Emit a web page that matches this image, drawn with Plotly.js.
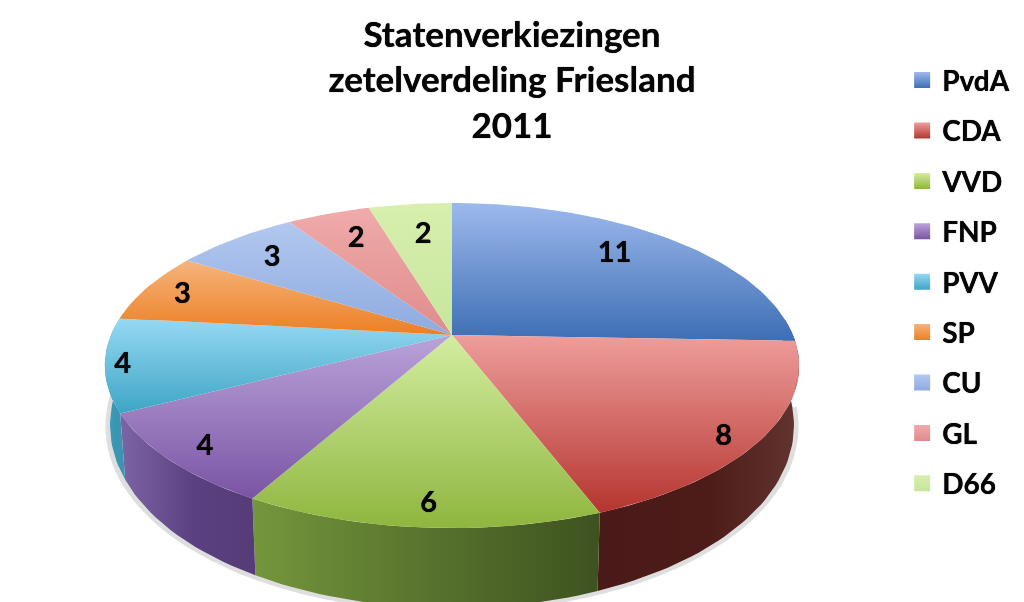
<!DOCTYPE html>
<html><head><meta charset="utf-8">
<script src="https://cdn.plot.ly/plotly-3.0.1.min.js"></script>
<style>html,body{margin:0;padding:0;background:#fff;overflow:hidden}#c{width:1024px;height:602px;filter:blur(0.7px)}</style>
</head><body><div id="c"></div>
<script>
// Data
const parties = ['PvdA','CDA','VVD','FNP','PVV','SP','CU','GL','D66'];
const seats = [11,8,6,4,4,3,3,2,2];
const chartTitle = 'Statenverkiezingen<br>zetelverdeling Friesland<br>2011';

// Styles
const topLight = ['#9db9ec','#ee9e9c','#d3eda0','#baa3d9','#96d9f3','#f6b47c','#b2c8ef','#efabaa','#d8efae'];
const topDark  = ['#3d6eb4','#b5352f','#8fb63f','#7a54a4','#3ea5c5','#ec7f24','#8eaadf','#df8c8b','#c6e69c'];
const wallLeft = ['#3d6eb4','#4a1a18','#75963c','#7d64a4','#3f9fbe','#ec7f24','#8eaadf','#df8c8b','#c6e69c'];
const wallMid  = ['#3d6eb4','#4d1c19','#55702c','#5a4080','#3a95b3','#ec7f24','#8eaadf','#df8c8b','#c6e69c'];
const wallRight= ['#3d6eb4','#62352f','#3e521f','#553c78','#3a95b3','#ec7f24','#8eaadf','#df8c8b','#c6e69c'];
const labelReach = [.79,.91,.89,.89,.95,.88,.81,.78,.75];
const labelTurn = [-4,3,-0.5,0,0,0,0,1,1];
const inkShadow = '0 0 0.8px #000';

// Tilted-disc projection
const cx=452, cy=335, A=341, B=156.8, K=0.188;
const proj=(deg,r)=>{const a=deg*Math.PI/180,u=Math.sin(a)*r,v=-Math.cos(a)*r,w=1-K*v;return [cx+A*u/w,cy+B*v/w,v];};
const low=(deg)=>{const p=proj(deg,1);return [cx+(p[0]-cx)*0.985,p[1]+55+25*p[2]];};
const total=seats.reduce((a,b)=>a+b,0);
const arcs=(a0,a1)=>{const n=Math.max(2,Math.ceil((a1-a0)/1.5)),o=[];for(let i=0;i<=n;i++)o.push(a0+(a1-a0)*i/n);return o;};

const traces=[];
// soft shadow under the wall
const sh=arcs(95,285);
traces.push({type:'scatter',mode:'lines',x:sh.map(d=>low(d)[0]-(Math.sin(d*Math.PI/180)<0?2:-2)),y:sh.map(d=>low(d)[1]+1),
  line:{color:'rgba(90,90,90,.2)',width:5,shape:'spline'},showlegend:false,hoverinfo:'skip'});

let cum=0; const slices=seats.map(s=>{const a0=cum/total*360;cum+=s;return [a0,cum/total*360];});
// side wall, only the slices facing the viewer
slices.forEach(([a0,a1],i)=>{
  const s=Math.max(a0,84), e=Math.min(a1,290); if(e<=s) return;
  const d=arcs(s,e), t=d.map(x=>proj(x,1)), b=d.map(low).reverse();
  const xs=t.map(p=>p[0]).concat(b.map(p=>p[0])), ys=t.map(p=>p[1]).concat(b.map(p=>p[1]));
  xs.push(xs[0]); ys.push(ys[0]);
  traces.push({type:'scatter',mode:'lines',x:xs,y:ys,fill:'toself',line:{width:0,color:wallMid[i]},showlegend:false,hoverinfo:'skip',
    fillgradient:{type:'horizontal',colorscale:[[0,wallLeft[i]],[.55,wallMid[i]],[1,wallRight[i]]]}});
});
// top face (the y axis runs downward, so the colour scale runs dark to light)
slices.forEach(([a0,a1],i)=>{
  const pts=arcs(a0,a1).map(x=>proj(x,1));
  const xs=[cx].concat(pts.map(p=>p[0]),[cx]), ys=[cy].concat(pts.map(p=>p[1]),[cy]);
  traces.push({type:'scatter',mode:'lines',x:xs,y:ys,fill:'toself',line:{width:0,color:topDark[i]},showlegend:false,
    name:parties[i],text:String(seats[i]),hoverinfo:'name+text',
    fillgradient:{type:'vertical',colorscale:[[0,topDark[i]],[1,topLight[i]]]}});
});
// value labels
const lab=slices.map(([a0,a1],i)=>proj((a0+a1)/2+labelTurn[i],labelReach[i]));
traces.push({type:'scatter',mode:'text',x:lab.map(p=>p[0]),y:lab.map(p=>p[1]+3),text:seats.map(String),textposition:'middle center',
  textfont:{family:'Lato, sans-serif',size:29,color:'#050505',weight:700,shadow:inkShadow},showlegend:false,hoverinfo:'skip'});
// legend entries
parties.forEach((p,i)=>traces.push({type:'scatter',mode:'markers',x:[null],y:[null],name:p,legendgroup:p,
  marker:{symbol:'square',size:17,color:topLight[i],gradient:{type:'vertical',color:topDark[i]},line:{width:0}}}));

const layout={width:1024,height:602,margin:{l:0,r:0,t:0,b:0},paper_bgcolor:'#fff',plot_bgcolor:'#fff',
  title:{text:chartTitle,x:0.5,xanchor:'center',xref:'paper',y:0.922,yanchor:'top',font:{family:'Lato, sans-serif',size:35,color:'#050505',weight:700,shadow:inkShadow}},
  xaxis:{range:[0,1024],visible:false,fixedrange:true},
  yaxis:{range:[602,0],visible:false,fixedrange:true},
  legend:{x:0.881,xanchor:'left',y:0.908,yanchor:'top',bgcolor:'rgba(0,0,0,0)',tracegroupgap:11,itemclick:false,itemdoubleclick:false,
    font:{family:'Lato, sans-serif',size:28,color:'#050505',weight:700,shadow:inkShadow}},
  showlegend:true};
Plotly.newPlot('c',traces,layout,{displayModeBar:false,responsive:false});
</script></body></html>
